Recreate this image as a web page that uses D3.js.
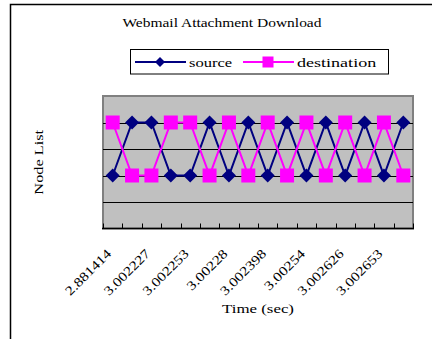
<!DOCTYPE html>
<html>
<head>
<meta charset="utf-8">
<script src="https://cdn.jsdelivr.net/npm/d3@7/dist/d3.min.js"></script>
<style>
  html, body { margin: 0; padding: 0; background: #fff; }
  text { font-family: "Liberation Serif", "DejaVu Serif", serif; fill: #000; }
</style>
</head>
<body>
<svg id="chart" width="432" height="339"></svg>
<script>
// Packet times (sec) for each captured packet
const times = ["2.881414", "2.881414b", "3.002227", "3.002227b", "3.002253", "3.002253b",
               "3.00228", "3.00228b", "3.002398", "3.002398b", "3.00254", "3.00254b",
               "3.002626", "3.002626b", "3.002653", "3.002653b"];
// Tick labels shown under every other category
const tickLabels = ["2.881414", "3.002227", "3.002253", "3.00228",
                    "3.002398", "3.00254", "3.002626", "3.002653"];
// Node index of the sender / receiver of each packet
const source      = [2, 4, 4, 2, 2, 4, 2, 4, 2, 4, 2, 4, 2, 4, 2, 4];
const destination = [4, 2, 2, 4, 4, 2, 4, 2, 4, 2, 4, 2, 4, 2, 4, 2];
const yTicks = [1, 2, 3, 4];

const svg = d3.select("#chart");
// fixed-pitch text: every character takes the same advance
const pitch = (sel, w) => sel.attr("textLength", d => null)
  .each(function () { const t = d3.select(this); t.attr("textLength", t.text().length * w).attr("lengthAdjust", "spacingAndGlyphs"); });

// outer chart frame
svg.append("rect")
  .attr("x", 10.5).attr("y", 4.5)
  .attr("width", 460).attr("height", 360)
  .attr("fill", "#fff").attr("stroke", "#000").attr("stroke-width", 1.5);

const plot = { left: 103, top: 96, right: 413, bottom: 228.5 };

const x = d3.scaleBand().domain(times).range([plot.left, plot.right]);
const y = d3.scaleLinear().domain([0, 5]).range([plot.bottom, plot.top]);
const cx = d => x(d) + x.bandwidth() / 2;

// plot background
svg.append("rect")
  .attr("x", plot.left).attr("y", plot.top)
  .attr("width", plot.right - plot.left).attr("height", plot.bottom - plot.top)
  .attr("fill", "#C0C0C0").attr("stroke", "#808080").attr("stroke-width", 2);

// horizontal gridlines
svg.append("g").selectAll("line").data(yTicks).join("line")
  .attr("x1", plot.left).attr("x2", plot.right)
  .attr("y1", d => Math.round(y(d)) + 0.5).attr("y2", d => Math.round(y(d)) + 0.5)
  .attr("stroke", "#000").attr("stroke-width", 1);

// x axis with inward ticks at category boundaries
const xAxis = svg.append("g").attr("transform", `translate(0,${plot.bottom})`);
xAxis.append("line")
  .attr("x1", plot.left - 1).attr("x2", plot.right + 1)
  .attr("stroke", "#000").attr("stroke-width", 1.5);
const bounds = times.map(t => x(t)).concat([plot.right]);
xAxis.selectAll("line.tick").data(bounds).join("line")
  .attr("class", "tick")
  .attr("x1", d => Math.round(d) + 0.5).attr("x2", d => Math.round(d) + 0.5)
  .attr("y1", 0).attr("y2", -5)
  .attr("stroke", "#000");

// rotated category labels (every other category)
const labelled = times.filter((t, i) => i % 2 === 0);
svg.append("g").selectAll("text").data(labelled).join("text")
  .attr("transform", (d, i) => `translate(${cx(d) - 0.5},${plot.bottom + 26}) rotate(-45)`)
  .attr("text-anchor", "end")
  .style("font-size", "13px")
  .text((d, i) => tickLabels[i])
  .call(pitch, 7.4);

// axis titles
svg.append("text")
  .attr("x", (plot.left + plot.right) / 2).attr("y", 313)
  .attr("text-anchor", "middle").style("font-size", "13px")
  .text("Time (sec)").call(pitch, 7.2);
svg.append("text")
  .attr("transform", `translate(43,${(plot.top + plot.bottom) / 2}) rotate(-90)`)
  .attr("text-anchor", "middle").style("font-size", "13px")
  .text("Node List").call(pitch, 7.2);

// chart title
svg.append("text")
  .attr("x", 222).attr("y", 27)
  .attr("text-anchor", "middle").style("font-size", "13px")
  .text("Webmail Attachment Download").call(pitch, 7.37);

const diamond = s => `M0,${-s}L${s},0L0,${s}L${-s},0Z`;

const series = [
  { name: "source", values: source, color: "#000080", shape: "diamond" },
  { name: "destination", values: destination, color: "#FF00FF", shape: "square" }
];

const line = d3.line().x(d => cx(d.t)).y(d => y(d.v));

series.forEach(s => {
  const pts = times.map((t, i) => ({ t, v: s.values[i] }));
  svg.append("path")
    .attr("d", line(pts))
    .attr("fill", "none").attr("stroke", s.color).attr("stroke-width", 2);
  const g = svg.append("g");
  if (s.shape === "diamond") {
    g.selectAll("path").data(pts).join("path")
      .attr("transform", d => `translate(${cx(d.t)},${y(d.v)})`)
      .attr("d", diamond(7)).attr("fill", s.color);
  } else {
    g.selectAll("rect").data(pts).join("rect")
      .attr("x", d => cx(d.t) - 7).attr("y", d => y(d.v) - 7)
      .attr("width", 14).attr("height", 14).attr("fill", s.color);
  }
});

// legend
const legend = svg.append("g");
legend.append("rect")
  .attr("x", 130.5).attr("y", 49.5).attr("width", 258).attr("height", 24.5)
  .attr("fill", "#fff").attr("stroke", "#000").attr("stroke-width", 1);
const ly = 62;
legend.append("line").attr("x1", 135).attr("x2", 186).attr("y1", ly).attr("y2", ly)
  .attr("stroke", series[0].color).attr("stroke-width", 2);
legend.append("path").attr("transform", `translate(160,${ly})`)
  .attr("d", diamond(5)).attr("fill", series[0].color);
legend.append("text").attr("x", 189).attr("y", ly + 4.5)
  .style("font-size", "13px").text(series[0].name).call(pitch, 7.2);
legend.append("line").attr("x1", 243).attr("x2", 294).attr("y1", ly).attr("y2", ly)
  .attr("stroke", series[1].color).attr("stroke-width", 2);
legend.append("rect").attr("x", 268 - 5.5).attr("y", ly - 5.5)
  .attr("width", 11).attr("height", 11).attr("fill", series[1].color);
legend.append("text").attr("x", 297).attr("y", ly + 4.5)
  .style("font-size", "13px").text(series[1].name).call(pitch, 7.2);
</script>
</body>
</html>
